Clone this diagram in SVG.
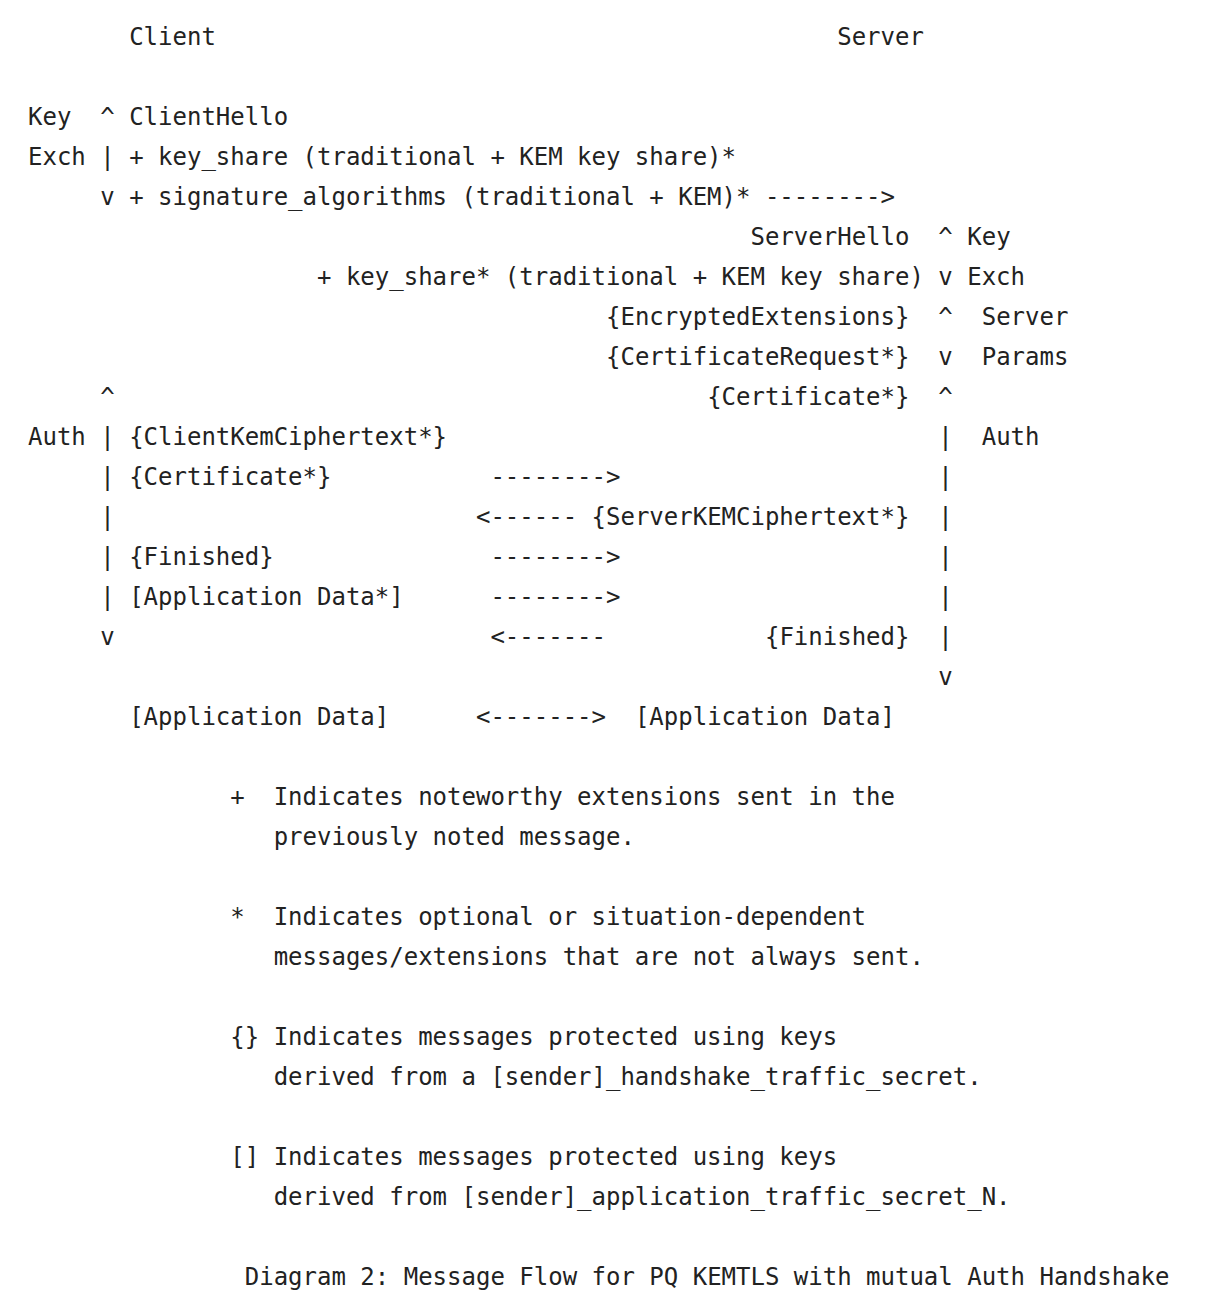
<svg xmlns="http://www.w3.org/2000/svg" width="1224" height="1312" viewBox="0 0 1224 1312" xml:space="preserve">
<style>
text { font-family: "DejaVu Sans Mono", "Liberation Mono", monospace; font-size: 24px; fill: #222; white-space: pre; }
</style>
<rect width="1224" height="1312" fill="#ffffff"/>
<g transform="translate(1,1)">
<g id="headers">
<text x="128.15" y="44">Client</text>
<text x="836.2" y="44">Server</text>
</g>
<g id="client-keyexch">
<text x="27" y="124">Key  ^ ClientHello</text>
<text x="27" y="164">Exch | + key_share (traditional + KEM key share)*</text>
<text x="99.25" y="204">v + signature_algorithms (traditional + KEM)* --------&gt;</text>
</g>
<g id="server-keyexch">
<text x="749.5" y="244">ServerHello  ^ Key</text>
<text x="316" y="284">+ key_share* (traditional + KEM key share) v Exch</text>
</g>
<g id="server-params">
<text x="605" y="324">{EncryptedExtensions}  ^  Server</text>
<text x="605" y="364">{CertificateRequest*}  v  Params</text>
</g>
<g id="auth">
<text x="99.25" y="404">^</text>
<text x="706.15" y="404">{Certificate*}  ^</text>
<text x="27" y="444">Auth | {ClientKemCiphertext*}</text>
<text x="937.35" y="444">|  Auth</text>
<text x="99.25" y="484">| {Certificate*}</text>
<text x="489.4" y="484">--------&gt;</text>
<text x="937.35" y="484">|</text>
<text x="99.25" y="524">|</text>
<text x="474.95" y="524">&lt;------ {ServerKEMCiphertext*}  |</text>
<text x="99.25" y="564">| {Finished}</text>
<text x="489.4" y="564">--------&gt;</text>
<text x="937.35" y="564">|</text>
<text x="99.25" y="604">| [Application Data*]</text>
<text x="489.4" y="604">--------&gt;</text>
<text x="937.35" y="604">|</text>
<text x="99.25" y="644">v</text>
<text x="489.4" y="644">&lt;-------</text>
<text x="763.95" y="644">{Finished}  |</text>
<text x="937.35" y="684">v</text>
</g>
<g id="appdata">
<text x="128.15" y="724">[Application Data]</text>
<text x="474.95" y="724">&lt;-------&gt;</text>
<text x="633.9" y="724">[Application Data]</text>
</g>
<g id="legend">
<text x="229.3" y="804">+  Indicates noteworthy extensions sent in the</text>
<text x="272.65" y="844">previously noted message.</text>
<text x="229.3" y="924">*  Indicates optional or situation-dependent</text>
<text x="272.65" y="964">messages/extensions that are not always sent.</text>
<text x="229.3" y="1044">{} Indicates messages protected using keys</text>
<text x="272.65" y="1084">derived from a [sender]_handshake_traffic_secret.</text>
<text x="229.3" y="1164">[] Indicates messages protected using keys</text>
<text x="272.65" y="1204">derived from [sender]_application_traffic_secret_N.</text>
</g>
<g id="caption">
<text x="243.75" y="1284">Diagram 2: Message Flow for PQ KEMTLS with mutual Auth Handshake</text>
</g>
</g>
</svg>
